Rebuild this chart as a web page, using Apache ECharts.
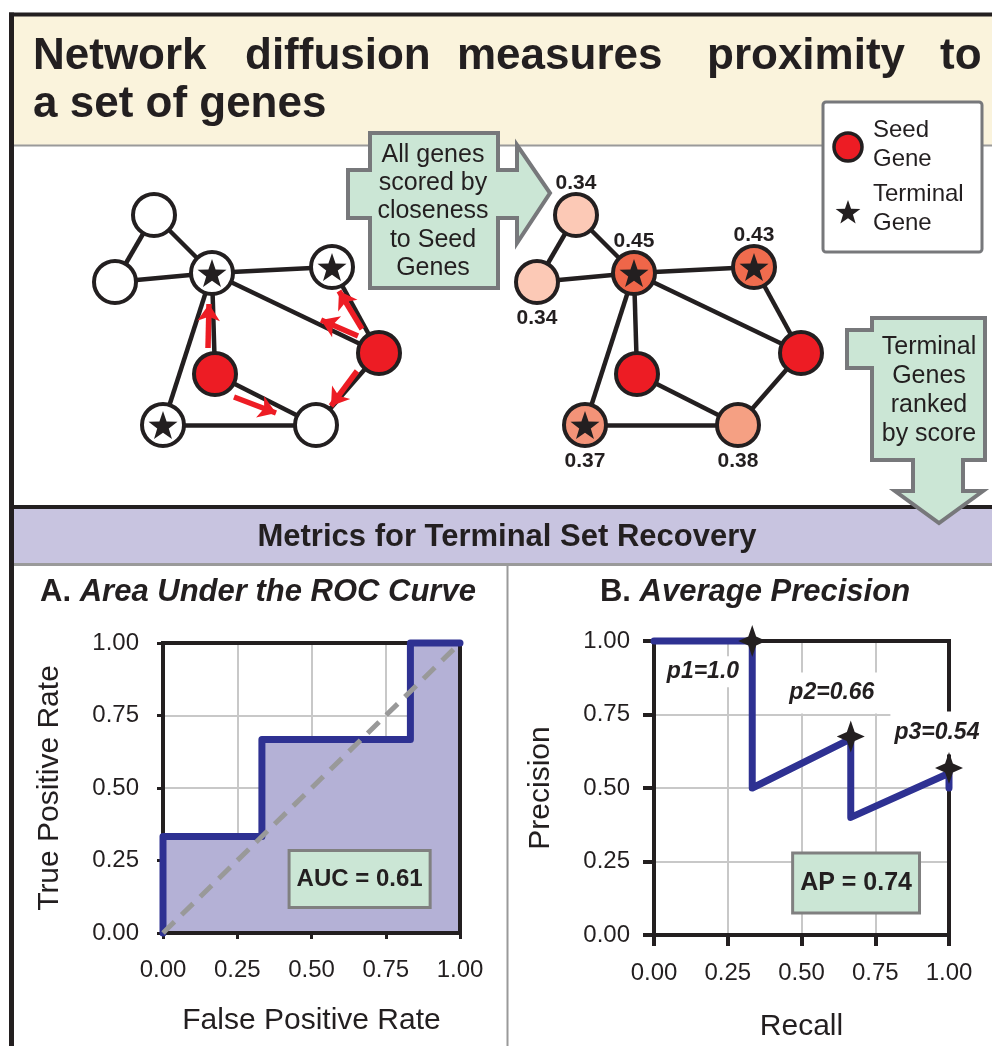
<!DOCTYPE html>
<html>
<head>
<meta charset="utf-8">
<script src="https://cdn.jsdelivr.net/npm/echarts@6/dist/echarts.min.js"></script>
<style>
html,body{margin:0;padding:0;background:#fff;}
#chart{width:992px;height:1046px;}
</style>
</head>
<body>
<div id="chart"></div>
<script>
// ---------------- DATA ----------------
const titleWords = ['Network', 'diffusion', 'measures', 'proximity', 'to'];
const titleLine2 = 'a set of genes';
const arrow1Lines = ['All genes', 'scored by', 'closeness', 'to Seed', 'Genes'];
const arrow2Lines = ['Terminal', 'Genes', 'ranked', 'by score'];
const legendItems = [['Seed', 'Gene'], ['Terminal', 'Gene']];
const bandTitle = 'Metrics for Terminal Set Recovery';

// network: node roles and diffusion scores
const nodeRoles = ['other', 'other', 'terminal', 'terminal', 'seed', 'seed', 'terminal', 'other'];
const nodeScores = [0.34, 0.34, 0.45, 0.43, null, null, 0.37, 0.38];
const edges = [[0,1],[0,2],[1,2],[2,3],[2,4],[2,5],[2,6],[3,4],[4,7],[5,7],[6,7]];
const diffusionArrows = [[5,2],[4,3],[4,2],[4,7],[5,7]]; // seed -> neighbour

// ROC curve
const fpr = [0, 0, 0.333, 0.333, 0.833, 0.833, 1];
const tpr = [0, 0.333, 0.333, 0.667, 0.667, 1, 1];
const aucText = 'AUC = 0.61';

// Precision-recall
const recall = [0, 0.333, 0.333, 0.667, 0.667, 1, 1];
const precision = [1, 1, 0.5, 0.667, 0.4, 0.55, 0.5];
const starRecall = [0.333, 0.667, 1];
const starPrecision = [1, 0.675, 0.568];
const pLabels = ['p1=1.0', 'p2=0.66', 'p3=0.54'];
const apText = 'AP = 0.74';
const tickValues = [0, 0.25, 0.5, 0.75, 1];

// ---------------- LAYOUT (pixel positions, separate from data) ----------------
const titleWordX = [33, 245, 457, 707, 940];
const nodeLayout = [[154,215],[115,282],[212,273],[332,267],[379,353],[215,374],[163,425],[316,425]];
const rightOffset = 422;
const arrowLayout = [
  [[208,348],[209,304]],
  [[362,329],[339,291]],
  [[358,336],[321,320]],
  [[357,371],[331,406]],
  [[234,397],[276,413]]
];
const pLabelPos = [[0.166, 0.895], [0.603, 0.823], [0.959, 0.687]];
const pLabelPad = [[4,4],[9,4],[10,4]];

// ---------------- STYLE ----------------
const FF = '"Liberation Sans", Arial, Helvetica, sans-serif';
const DARK = '#231f20';
const RED = '#ed1c24';
const GREEN = '#cbe6d5';
const GREYSTROKE = '#77787b';
const scoreColors = {0.34: '#fcc9b6', 0.45: '#ef6649', 0.43: '#f06c4e', 0.37: '#f39378', 0.38: '#f5a083'};

function starPoints(cx, cy, R) {
  const pts = [];
  for (let i = 0; i < 10; i++) {
    const a = -Math.PI / 2 + i * Math.PI / 5;
    const r = i % 2 ? R * 0.4 : R;
    pts.push([cx + r * Math.cos(a), cy + r * Math.sin(a)]);
  }
  return pts;
}
const starPath = 'path://' + starPoints(0, 0, 10).map((p, i) => (i ? 'L' : 'M') + p[0].toFixed(3) + ',' + p[1].toFixed(3)).join('') + 'Z';
const star4Path = 'path://M0,-10L2.8,-2.8L10,0L2.8,2.8L0,10L-2.8,2.8L-10,0L-2.8,-2.8Z';

function txt(text, x, y, font, align, z) {
  return { type: 'text', x: x, y: y, z: z || 10, silent: true,
    style: { text: text, font: font, fill: DARK, align: align || 'left', verticalAlign: 'middle' } };
}

// ---------------- GRAPHIC DECORATIONS ----------------
const graphics = [];
graphics.push({ type: 'rect', z: 0, shape: { x: 13, y: 15, width: 979, height: 130 }, style: { fill: '#faf3dc' } });
graphics.push({ type: 'line', z: 1, shape: { x1: 13, y1: 145.5, x2: 992, y2: 145.5 }, style: { stroke: '#9a9a9a', lineWidth: 2 } });
graphics.push({ type: 'rect', z: 0, shape: { x: 14, y: 509, width: 978, height: 54 }, style: { fill: '#c8c4e0' } });
graphics.push({ type: 'line', z: 1, shape: { x1: 12, y1: 507, x2: 992, y2: 507 }, style: { stroke: DARK, lineWidth: 4 } });
graphics.push({ type: 'line', z: 1, shape: { x1: 13, y1: 564.5, x2: 992, y2: 564.5 }, style: { stroke: '#9a9a9a', lineWidth: 3 } });
graphics.push({ type: 'line', z: 1, shape: { x1: 507.5, y1: 566, x2: 507.5, y2: 1046 }, style: { stroke: '#9a9a9a', lineWidth: 2 } });
graphics.push({ type: 'line', z: 2, shape: { x1: 9, y1: 14.5, x2: 992, y2: 14.5 }, style: { stroke: DARK, lineWidth: 4 } });
graphics.push({ type: 'line', z: 2, shape: { x1: 11.5, y1: 12.5, x2: 11.5, y2: 1046 }, style: { stroke: DARK, lineWidth: 5 } });

titleWords.forEach((w, i) => graphics.push(txt(w, titleWordX[i], 56.5, 'bold 44px ' + FF, 'left', 5)));
graphics.push(txt(titleLine2, 33, 104.5, 'bold 44px ' + FF, 'left', 5));

// green arrow 1
graphics.push({ type: 'polygon', z: 6, shape: { points: [[370,133],[498,133],[498,170],[517,170],[517,145],[550,193],[517,243],[517,218],[498,218],[498,288],[370,288],[370,218],[348,218],[348,170],[370,170]] },
  style: { fill: GREEN, stroke: GREYSTROKE, lineWidth: 4 } });
arrow1Lines.forEach((l, i) => graphics.push(txt(l, 433, 155 + i * 28.3, '25px ' + FF, 'center', 7)));

// legend box
graphics.push({ type: 'rect', z: 6, shape: { x: 823, y: 102, width: 159, height: 150, r: 3 }, style: { fill: '#fff', stroke: GREYSTROKE, lineWidth: 3 } });
graphics.push({ type: 'circle', z: 7, shape: { cx: 848, cy: 147, r: 14 }, style: { fill: RED, stroke: DARK, lineWidth: 3.5 } });
graphics.push({ type: 'polygon', z: 7, shape: { points: starPoints(848, 213, 13) }, style: { fill: DARK } });
graphics.push(txt(legendItems[0][0], 873, 130, '24px ' + FF, 'left', 7));
graphics.push(txt(legendItems[0][1], 873, 159, '24px ' + FF, 'left', 7));
graphics.push(txt(legendItems[1][0], 873, 194, '24px ' + FF, 'left', 7));
graphics.push(txt(legendItems[1][1], 873, 223, '24px ' + FF, 'left', 7));

// green arrow 2
graphics.push({ type: 'polygon', z: 6, shape: { points: [[872,318],[985,318],[985,460],[963,460],[963,491],[983,491],[939,523],[895,491],[913,491],[913,460],[872,460],[872,368],[847,368],[847,330],[872,330]] },
  style: { fill: GREEN, stroke: GREYSTROKE, lineWidth: 4 } });
arrow2Lines.forEach((l, i) => graphics.push(txt(l, 929, 347 + i * 29, '25px ' + FF, 'center', 7)));

// band + chart titles
graphics.push(txt(bandTitle, 507, 537, 'bold 31px ' + FF, 'center', 5));
const titleRich = { a: { fontSize: 31, fontWeight: 'bold', fontFamily: FF, fill: DARK }, b: { fontSize: 31, fontWeight: 'bold', fontStyle: 'italic', fontFamily: FF, fill: DARK } };
graphics.push({ type: 'text', x: 258, y: 592, z: 5, style: { text: '{a|A. }{b|Area Under the ROC Curve}', align: 'center', verticalAlign: 'middle', rich: titleRich } });
graphics.push({ type: 'text', x: 755, y: 592, z: 5, style: { text: '{a|B. }{b|Average Precision}', align: 'center', verticalAlign: 'middle', rich: titleRich } });

// ---------------- NETWORK SERIES ----------------
function nodeFill(i, scored) {
  if (nodeRoles[i] === 'seed') return RED;
  return scored ? scoreColors[nodeScores[i]] : '#ffffff';
}
function graphSeries(prefix, dx, scored) {
  return {
    type: 'graph', layout: 'none', coordinateSystem: 'cartesian2d', xAxisIndex: 0, yAxisIndex: 0,
    symbol: 'circle', symbolSize: 42, z: 3, silent: true,
    data: nodeRoles.map((r, i) => {
      const above = [0, 2, 3].indexOf(i) >= 0;
      return {
        name: prefix + i, value: [nodeLayout[i][0] + dx, nodeLayout[i][1]],
        itemStyle: { color: nodeFill(i, scored), borderColor: DARK, borderWidth: 4, opacity: 1 },
        label: (scored && nodeScores[i] != null) ? { show: true, position: above ? 'top' : 'bottom', distance: above ? -2 : 3,
          formatter: nodeScores[i].toFixed(2), fontSize: 21, fontWeight: 'bold', fontFamily: FF, color: DARK } : { show: false }
      };
    }),
    links: edges.map(e => ({ source: prefix + e[0], target: prefix + e[1] })),
    lineStyle: { color: DARK, width: 4.5, opacity: 1, curveness: 0 },
    emphasis: { disabled: true }
  };
}
function starSeries(dx) {
  const d = [];
  nodeRoles.forEach((r, i) => { if (r === 'terminal') d.push([nodeLayout[i][0] + dx, nodeLayout[i][1]]); });
  return { type: 'scatter', xAxisIndex: 0, yAxisIndex: 0, symbol: starPath, symbolSize: [29, 28], symbolKeepAspect: false,
    itemStyle: { color: DARK, opacity: 1 }, data: d, z: 5, silent: true };
}

const rocPoints = fpr.map((x, i) => [x, tpr[i]]);
const series = [
  graphSeries('L', 0, false),
  graphSeries('R', rightOffset, true),
  starSeries(0),
  starSeries(rightOffset),
  {
    type: 'lines', coordinateSystem: 'cartesian2d', xAxisIndex: 0, yAxisIndex: 0, z: 4, silent: true,
    symbol: ['none', 'arrow'], symbolSize: 17,
    lineStyle: { color: RED, width: 5.5, opacity: 1 },
    data: diffusionArrows.map((a, i) => ({ coords: arrowLayout[i] }))
  },
  // ROC area (below frame)
  {
    type: 'line', xAxisIndex: 1, yAxisIndex: 1, data: rocPoints, showSymbol: false, clip: true, z: 1,
    lineStyle: { width: 0, opacity: 0 },
    areaStyle: { color: '#b4b1d6', opacity: 1 }, silent: true
  },
  // ROC curve (above frame)
  {
    type: 'line', xAxisIndex: 1, yAxisIndex: 1, data: rocPoints, showSymbol: false, clip: false, z: 4,
    lineStyle: { color: '#2e3192', width: 7, cap: 'round', join: 'round' }, silent: true
  },
  {
    type: 'line', xAxisIndex: 1, yAxisIndex: 1, data: [[0, 0], [1, 1]], showSymbol: false, clip: false, z: 5,
    lineStyle: { color: '#999999', width: 5, type: [16, 10] }, silent: true
  },
  {
    type: 'scatter', xAxisIndex: 1, yAxisIndex: 1, data: [[0.662, 0.186]], symbolSize: 0, z: 6, clip: false, silent: true,
    itemStyle: { opacity: 1 },
    label: { show: true, position: 'inside', formatter: aucText, fontSize: 24, fontWeight: 'bold', fontFamily: FF, color: DARK,
      backgroundColor: GREEN, borderColor: '#808080', borderWidth: 3, padding: [15, 6] }
  },
  // AP
  {
    type: 'line', xAxisIndex: 2, yAxisIndex: 2, data: recall.map((x, i) => [x, precision[i]]), showSymbol: false, clip: false, z: 4,
    lineStyle: { color: '#2e3192', width: 7, cap: 'round', join: 'round' }, silent: true
  },
  {
    type: 'scatter', xAxisIndex: 2, yAxisIndex: 2, data: pLabelPos.map((p, i) => ({ value: p,
      label: { show: true, position: 'inside', formatter: pLabels[i], fontSize: 23, fontWeight: 'bold', fontStyle: 'italic', fontFamily: FF,
        color: DARK, backgroundColor: '#ffffff', padding: pLabelPad[i] } })),
    itemStyle: { opacity: 1 }, symbolSize: 0, z: 4, clip: false, silent: true
  },
  {
    type: 'scatter', xAxisIndex: 2, yAxisIndex: 2, data: starRecall.map((x, i) => [x, starPrecision[i]]), symbol: star4Path,
    symbolSize: [28, 32], itemStyle: { color: DARK, opacity: 1 }, z: 7, clip: false, silent: true
  },
  {
    type: 'scatter', xAxisIndex: 2, yAxisIndex: 2, data: [[0.685, 0.177]], symbolSize: 0, z: 6, clip: false, silent: true,
    itemStyle: { opacity: 1 },
    label: { show: true, position: 'inside', formatter: apText, fontSize: 25, fontWeight: 'bold', fontFamily: FF, color: DARK,
      backgroundColor: GREEN, borderColor: '#808080', borderWidth: 3, padding: [16, 6] }
  }
];

function valueAxis(gridIndex, name, isX, opts) {
  return Object.assign({
    type: 'value', gridIndex: gridIndex, min: 0, max: 1, interval: 0.25,
    name: name, nameLocation: 'middle', nameRotate: isX ? 0 : 90,
    nameTextStyle: { fontSize: 30, fontFamily: FF, color: DARK },
    axisLine: { show: true, onZero: false, lineStyle: { color: DARK, width: 4 } },
    axisTick: { show: true, inside: false, length: 6, lineStyle: { color: DARK, width: 3 } },
    splitLine: { show: true, showMinLine: false, showMaxLine: false, lineStyle: { color: '#c8c8c8', width: 2 } },
    axisLabel: { fontSize: 24, fontFamily: FF, color: DARK, margin: isX ? 25 : 24, formatter: v => tickValues.indexOf(v) >= 0 ? v.toFixed(2) : '' }
  }, opts || {});
}

const option = {
  animation: false,
  backgroundColor: '#ffffff',
  graphic: { elements: graphics },
  grid: [
    { left: 0, top: 0, width: 992, height: 1046, show: false },
    { left: 163, top: 643, width: 297, height: 290, show: true, z: 2, borderColor: DARK, borderWidth: 4, backgroundColor: 'transparent' },
    { left: 654, top: 641, width: 295, height: 294, show: true, z: 2, borderColor: DARK, borderWidth: 4, backgroundColor: 'transparent' }
  ],
  xAxis: [
    { type: 'value', gridIndex: 0, min: 0, max: 992, show: false },
    valueAxis(1, 'False Positive Rate', true, { nameGap: 73 }),
    valueAxis(2, 'Recall', true, { nameGap: 77, axisTick: { show: true, length: 11, lineStyle: { color: DARK, width: 4 } },
      axisLabel: { fontSize: 24, fontFamily: FF, color: DARK, margin: 26, formatter: v => tickValues.indexOf(v) >= 0 ? v.toFixed(2) : '' } })
  ],
  yAxis: [
    { type: 'value', gridIndex: 0, min: 0, max: 1046, inverse: true, show: false },
    valueAxis(1, 'True Positive Rate', false, { nameGap: 98 }),
    valueAxis(2, 'Precision', false, { nameGap: 98, axisTick: { show: true, length: 11, lineStyle: { color: DARK, width: 4 } } })
  ],
  series: series
};

const chart = echarts.init(document.getElementById('chart'), null, { renderer: 'canvas' });
chart.setOption(option);
</script>
</body>
</html>
